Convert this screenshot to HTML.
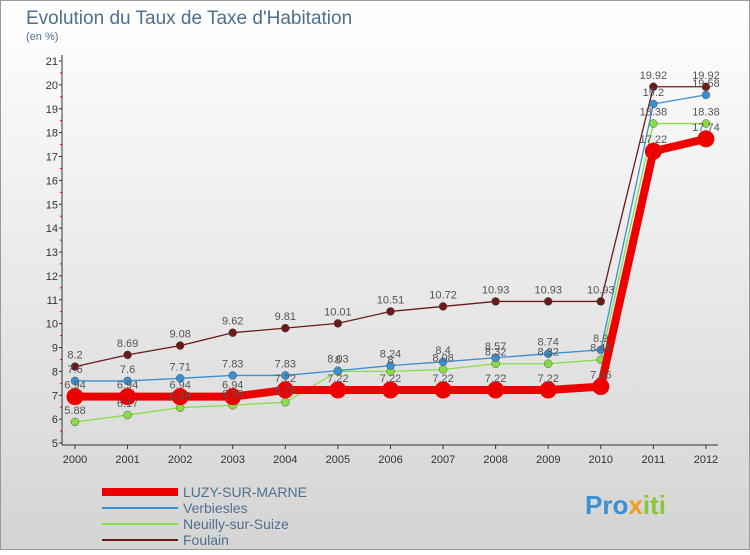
<!DOCTYPE html>
<html><head><meta charset="utf-8"><style>
body{margin:0;width:750px;height:550px;overflow:hidden;font-family:"Liberation Sans",sans-serif}
</style></head><body>
<svg width="750" height="550" xmlns="http://www.w3.org/2000/svg">
<defs><linearGradient id="bg" x1="0" y1="0" x2="0" y2="1"><stop offset="0" stop-color="#ffffff"/><stop offset="1" stop-color="#d4d4d4"/></linearGradient></defs>
<rect x="0.5" y="0.5" width="749" height="549" fill="url(#bg)" stroke="#999"/>
<text x="26" y="24" font-size="19" fill="#4f6f8f">Evolution du Taux de Taxe d'Habitation</text>
<text x="26" y="40" font-size="11" fill="#4f6f8f">(en %)</text>
<g id="axes"></g><g id="series"></g><g id="labels"></g>
<g id="legend"></g>
<text x="585" y="514" font-size="26" font-weight="bold" fill="#3a8fd0">Pro<tspan fill="#f0a020">x</tspan><tspan fill="#8bc53f">iti</tspan></text>
</svg>
<script>
const years=[2000,2001,2002,2003,2004,2005,2006,2007,2008,2009,2010,2011,2012];
const yTicks=[5,6,7,8,9,10,11,12,13,14,15,16,17,18,19,20,21];
const luzy=[6.94,6.94,6.94,6.94,7.22,7.22,7.22,7.22,7.22,7.22,7.36,17.22,17.74];
const verbiesles=[7.6,7.6,7.71,7.83,7.83,8.03,8.24,8.4,8.57,8.74,8.9,19.2,19.58];
const neuilly=[5.88,6.17,6.48,6.58,6.71,8.0,8.0,8.08,8.32,8.32,8.49,18.38,18.38];
const foulain=[8.2,8.69,9.08,9.62,9.81,10.01,10.51,10.72,10.93,10.93,10.93,19.92,19.92];
const NS="http://www.w3.org/2000/svg";
const X=y=>75+(y-2000)*52.58;
const Y=v=>443-(v-5)*23.875;
function mk(tag,attrs,parent){const e=document.createElementNS(NS,tag);for(const k in attrs)e.setAttribute(k,attrs[k]);document.getElementById(parent).appendChild(e);return e;}
let a=mk('line',{x1:62,y1:55,x2:62,y2:445,stroke:'#333'},'axes');


a=mk('line',{x1:62,y1:445,x2:718,y2:445,stroke:'#333'},'axes');


yTicks.forEach(v=>{const t=mk('text',{x:58,y:Y(v)+4,'font-size':11,'text-anchor':'end',fill:'#333'},'axes');t.textContent=v;


mk('line',{x1:59,y1:Y(v),x2:62,y2:Y(v),stroke:'#333'},'axes');
if(v<21)mk('line',{x1:60,y1:Y(v+0.5),x2:62,y2:Y(v+0.5),stroke:'#e00'},'axes');});
years.forEach(y=>{const t=mk('text',{x:X(y),y:463,'font-size':11,'text-anchor':'middle',fill:'#333'},'axes');t.textContent=y;


mk('line',{x1:X(y),y1:445,x2:X(y),y2:449,stroke:'#333'},'axes');});
const series=[['foulain',foulain,'#6b1a1a',1.3,4],['neuilly',neuilly,'#88dd44',1.3,4],['verbiesles',verbiesles,'#3a8fd0',1.3,4],['luzy',luzy,'#ee0000',8,8.5]];
series.forEach(([n,d,c,w,r])=>{
const p=mk('polyline',{points:d.map((v,i)=>X(years[i])+','+Y(v)).join(' '),fill:'none',stroke:c,'stroke-width':w,'stroke-linejoin':'round'},'series');


d.forEach((v,i)=>{const m=mk('circle',{cx:X(years[i]),cy:Y(v),r:r,fill:c,stroke:n==='luzy'?'none':'#555','stroke-width':0.5},'series');


const t=mk('text',{x:X(years[i]),y:Y(v)-8,'font-size':11,'text-anchor':'middle',fill:'#555'},'labels');t.textContent=v;

});});
const leg=[['LUZY-SUR-MARNE','#ee0000',8],['Verbiesles','#3a8fd0',2],['Neuilly-sur-Suize','#88dd44',2],['Foulain','#6b1a1a',2]];
leg.forEach(([n,c,w],i)=>{const y=492+i*16;
const l=mk('line',{x1:102,y1:y,x2:178,y2:y,stroke:c,'stroke-width':w},'legend');


const t=mk('text',{x:183,y:y+5,'font-size':14,fill:'#4f6f8f'},'legend');t.textContent=n;

});
</script>
</body></html>
